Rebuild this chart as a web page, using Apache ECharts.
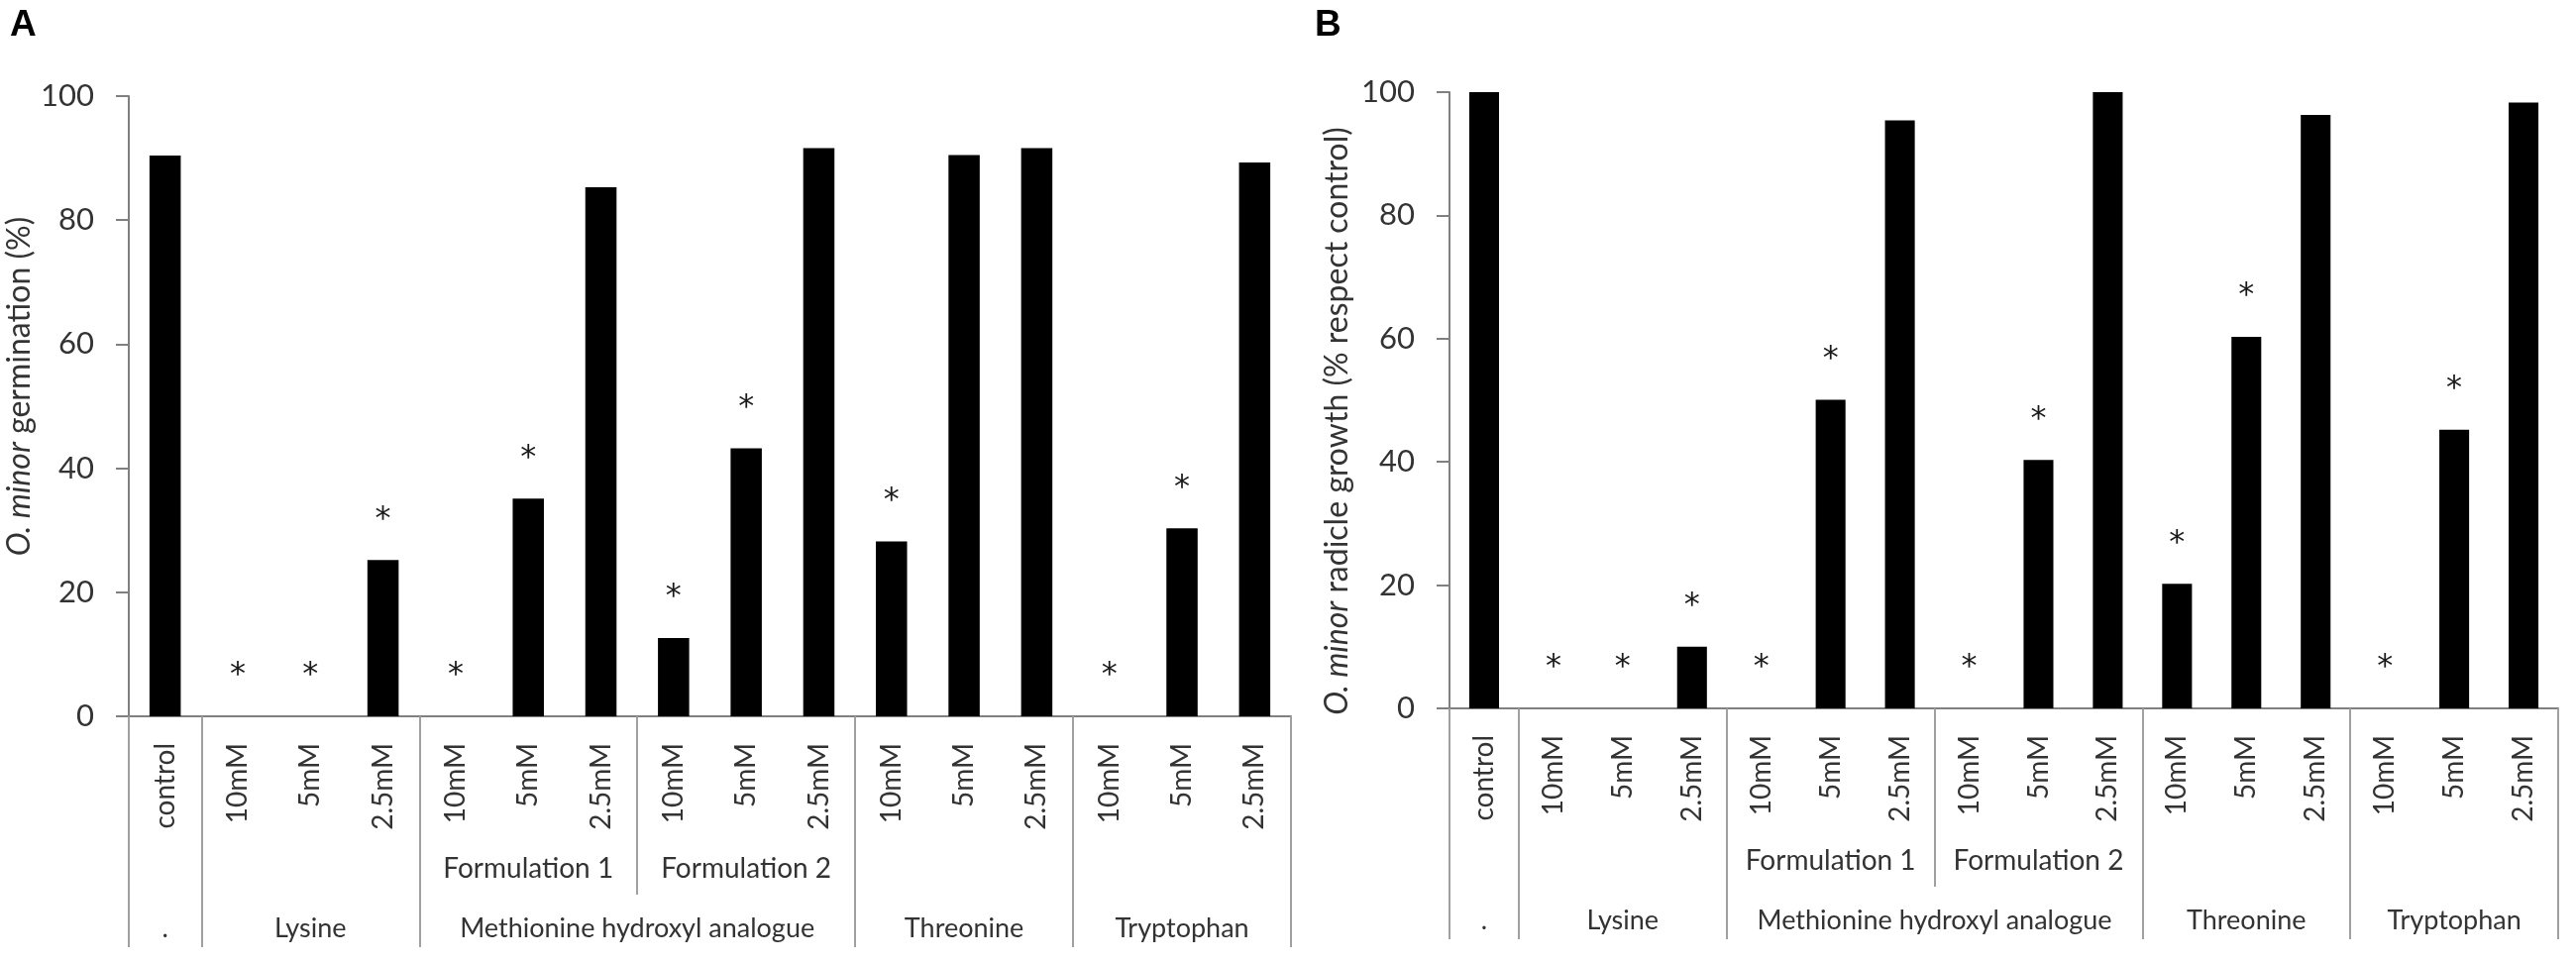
<!DOCTYPE html>
<html>
<head>
<meta charset="utf-8">
<script src="https://cdn.jsdelivr.net/npm/echarts@6/dist/echarts.min.js"></script>
<style>
  html, body { margin: 0; padding: 0; background: #fff; }
  #main { width: 2600px; height: 972px; }
</style>
</head>
<body>
<div id="main"></div>
<script>
// x axis, three levels
const concLabels = ['control', '10mM', '5mM', '2.5mM', '10mM', '5mM', '2.5mM', '10mM', '5mM', '2.5mM',
                    '10mM', '5mM', '2.5mM', '10mM', '5mM', '2.5mM'];
const groupNames = ['.', 'Lysine', 'Methionine hydroxyl analogue', 'Threonine', 'Tryptophan'];
const groupSizes = [1, 3, 6, 3, 3];
const subNames = ['Formulation 1', 'Formulation 2'];
const subSizes = [3, 3];
const subStart = 4;

// panel A: germination (%)
const germination = [90.4, 0, 0, 25.2, 0, 35.1, 85.3, 12.6, 43.2, 91.6, 28.2, 90.5, 91.6, 0, 30.3, 89.3];
const germinationSig = [0, 1, 1, 1, 1, 1, 0, 1, 1, 0, 1, 0, 0, 1, 1, 0];

// panel B: radicle growth (% respect control)
const radicle = [100, 0, 0, 10, 0, 50.1, 95.4, 0, 40.3, 100, 20.2, 60.3, 96.3, 0, 45.2, 98.3];
const radicleSig = [0, 1, 1, 1, 1, 1, 0, 1, 1, 0, 1, 1, 0, 1, 1, 0];

const yMin = 0, yMax = 100, yStep = 20;

const FONT = 'Lato, "Noto Sans", sans-serif';
const TXT = '#333';
const SEP = '#a0a0a0';
const AX = '#808080';

function edgesOf(sizes, start) {
  const e = [start];
  sizes.forEach(s => e.push(e[e.length - 1] + s));
  return e;
}
const groupEdges = edgesOf(groupSizes, 0);
const groupCenters = groupSizes.map((s, i) => groupEdges[i] + s / 2);
const subEdges = edgesOf(subSizes, subStart);
const subCenters = subSizes.map((s, i) => subEdges[i] + s / 2);

function xAxesFor(g) {
  const n = concLabels.length;
  return [
    {
      type: 'category', gridIndex: g, position: 'bottom', data: concLabels,
      axisLine: { lineStyle: { color: AX, width: 2 } },
      axisTick: { interval: 0, length: 115, lineStyle: { color: SEP, width: 2 } },
      axisLabel: { interval: 0, rotate: 90, margin: 27, fontSize: 28, color: TXT, fontFamily: FONT }
    },
    {
      type: 'value', gridIndex: g, position: 'bottom', min: 0, max: n,
      axisLine: { show: false }, splitLine: { show: false },
      axisTick: { customValues: subEdges.slice(1, -1), length: 180, lineStyle: { color: SEP, width: 2 } },
      axisLabel: {
        customValues: subCenters, margin: 140, fontSize: 28, lineHeight: 28, color: TXT, fontFamily: FONT,
        formatter: v => subNames[subCenters.indexOf(v)] || ''
      }
    },
    {
      type: 'value', gridIndex: g, position: 'bottom', min: 0, max: n,
      axisLine: { show: false }, splitLine: { show: false },
      axisTick: { customValues: groupEdges, length: 233, lineStyle: { color: SEP, width: 2 } },
      axisLabel: {
        customValues: groupCenters, margin: 200, fontSize: 27, lineHeight: 28, color: TXT, fontFamily: FONT,
        formatter: v => groupNames[groupCenters.indexOf(v)] || ''
      }
    }
  ];
}

function yAxisFor(g, name, gap, pad) {
  return {
    type: 'value', gridIndex: g, min: yMin, max: yMax, interval: yStep,
    axisLine: { show: true, lineStyle: { color: AX, width: 2 } },
    axisTick: { show: true, length: 13, lineStyle: { color: AX, width: 2 } },
    splitLine: { show: false },
    axisLabel: { fontSize: 31, margin: 35, color: TXT, fontFamily: FONT },
    name: name, nameLocation: 'middle', nameGap: gap,
    nameTextStyle: {
      fontSize: 32, lineHeight: 34, color: TXT, fontFamily: FONT, padding: pad,
      rich: { i: { fontStyle: 'italic', fontSize: 32, lineHeight: 34, color: TXT, fontFamily: FONT } }
    }
  };
}

function barsFor(g, values, sig) {
  return {
    type: 'bar', xAxisIndex: g * 3, yAxisIndex: g, data: values,
    barWidth: '43%', itemStyle: { color: '#000' },
    label: {
      show: true, position: 'top', distance: 25, fontSize: 32, lineHeight: 32,
      color: '#1a1a1a', fontFamily: '"DejaVu Sans", sans-serif',
      formatter: p => (sig[p.dataIndex] ? '*' : '')
    }
  };
}

const chart = echarts.init(document.getElementById('main'));
chart.setOption({
  animation: false,
  backgroundColor: '#fff',
  title: [
    { text: 'A', left: 5, top: 2, textStyle: { fontSize: 37, fontWeight: 'bold', color: '#000', fontFamily: '"Liberation Sans", Arial' } },
    { text: 'B', left: 1322, top: 2, textStyle: { fontSize: 37, fontWeight: 'bold', color: '#000', fontFamily: '"Liberation Sans", Arial' } }
  ],
  grid: [
    { left: 130, top: 97, width: 1173, height: 626 },
    { left: 1463, top: 93, width: 1119, height: 622 }
  ],
  xAxis: xAxesFor(0).concat(xAxesFor(1)),
  yAxis: [
    yAxisFor(0, '{i|O. minor} germination (%)', 84, [0, 0, 0, 40]),
    yAxisFor(1, '{i|O. minor} radicle growth (% respect control)', 96, [0, 42, 0, 0])
  ],
  series: [
    barsFor(0, germination, germinationSig),
    barsFor(1, radicle, radicleSig)
  ]
});
</script>
</body>
</html>
